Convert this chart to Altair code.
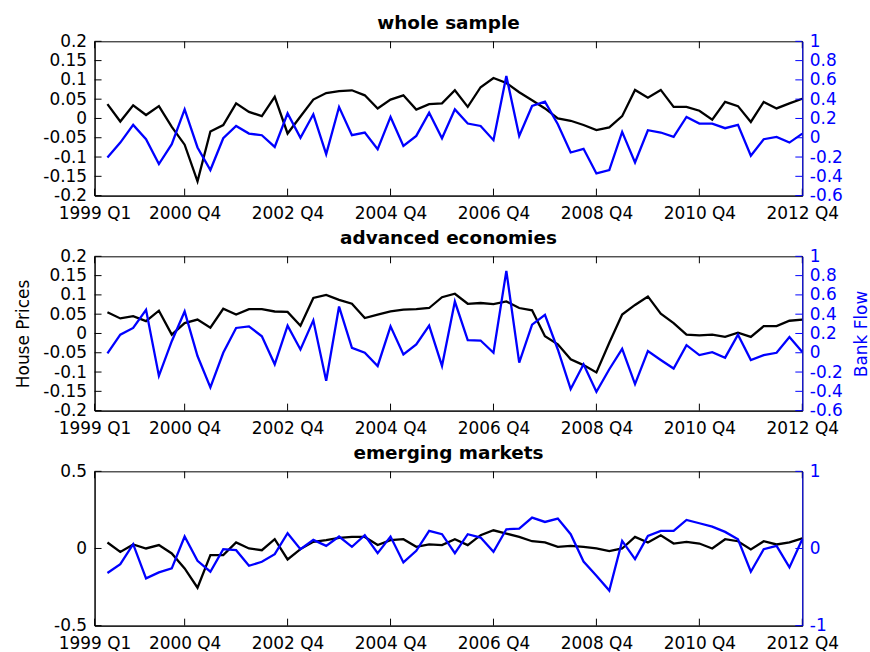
import altair as alt
import pandas as pd

quarter_idx = list(range(1, 56))
tick_pos = [0, 7, 15, 23, 31, 39, 47, 55]
tick_labels = ["1999 Q1", "2000 Q4", "2002 Q4", "2004 Q4", "2006 Q4",
               "2008 Q4", "2010 Q4", "2012 Q4"]

whole_hp = [0.037, -0.008, 0.034, 0.009, 0.032, -0.022, -0.068, -0.163, -0.034, -0.017,
            0.039, 0.017, 0.006, 0.056, -0.039, 0.005, 0.049, 0.066, 0.071, 0.073,
            0.06, 0.026, 0.049, 0.06, 0.023, 0.037, 0.039, 0.073, 0.03, 0.081,
            0.105, 0.092, 0.068, 0.047, 0.026, 0.0, -0.006, -0.017, -0.03, -0.023,
            0.006, 0.074, 0.054, 0.074, 0.03, 0.03, 0.02, -0.003, 0.043, 0.032,
            -0.009, 0.043, 0.026, 0.039, 0.051]
whole_bf = [-0.204, -0.05, 0.133, -0.015, -0.273, -0.067, 0.294, -0.101, -0.335, -0.005,
            0.122, 0.043, 0.026, -0.095, 0.253, 0.0, 0.243, -0.17, 0.319, 0.026,
            0.054, -0.118, 0.216, -0.084, 0.019, 0.26, -0.005, 0.294, 0.147, 0.122,
            -0.025, 0.64, 0.019, 0.329, 0.374, 0.14, -0.153, -0.115, -0.37, -0.335,
            0.061, -0.256, 0.078, 0.054, 0.009, 0.216, 0.147, 0.147, 0.099, 0.133,
            -0.187, -0.015, 0.009, -0.05, 0.043]
adv_hp = [0.055, 0.039, 0.045, 0.032, 0.059, -0.003, 0.027, 0.036, 0.015, 0.064,
          0.049, 0.063, 0.063, 0.057, 0.056, 0.02, 0.092, 0.1, 0.087, 0.077,
          0.04, 0.049, 0.057, 0.062, 0.063, 0.066, 0.094, 0.103, 0.077, 0.079,
          0.076, 0.083, 0.066, 0.06, -0.007, -0.028, -0.067, -0.082, -0.101, -0.024,
          0.049, 0.074, 0.096, 0.051, 0.027, -0.003, -0.005, -0.003, -0.009, 0.002,
          -0.009, 0.019, 0.019, 0.033, 0.036]
adv_bf = [-0.007, 0.188, 0.257, 0.445, -0.24, 0.12, 0.428, -0.034, -0.36, 0.0,
          0.257, 0.274, 0.171, -0.12, 0.281, 0.034, 0.336, -0.291, 0.479, 0.051,
          0.0, -0.137, 0.274, -0.017, 0.086, 0.281, -0.137, 0.531, 0.13, 0.127,
          0.0, 0.849, -0.103, 0.291, 0.394, 0.034, -0.377, -0.12, -0.404, -0.171,
          0.041, -0.325, 0.017, -0.075, -0.164, 0.079, -0.024, 0.007, -0.051, 0.188,
          -0.075, -0.024, 0.0, 0.164, 0.007]
em_hp = [0.039, -0.022, 0.026, 0.0, 0.022, -0.032, -0.129, -0.254, -0.043, -0.043,
         0.039, 0.0, -0.011, 0.06, -0.071, -0.004, 0.043, 0.054, 0.069, 0.075,
         0.075, 0.022, 0.054, 0.06, 0.011, 0.026, 0.022, 0.06, 0.022, 0.086,
         0.118, 0.097, 0.075, 0.047, 0.039, 0.011, 0.017, 0.011, 0.0, -0.017,
         0.0, 0.075, 0.039, 0.086, 0.032, 0.043, 0.032, 0.0, 0.06, 0.047,
         -0.006, 0.047, 0.026, 0.039, 0.065]
em_bf = [-0.318, -0.202, 0.056, -0.387, -0.31, -0.258, 0.155, -0.159, -0.301, -0.009,
         -0.022, -0.224, -0.172, -0.073, 0.198, -0.009, 0.112, 0.034, 0.155, 0.022,
         0.172, -0.06, 0.155, -0.181, -0.03, 0.228, 0.185, -0.06, 0.185, 0.142,
         -0.043, 0.249, 0.258, 0.4, 0.344, 0.387, 0.185, -0.17, -0.353, -0.546,
         0.099, -0.138, 0.163, 0.228, 0.228, 0.37, 0.327, 0.284, 0.215, 0.12,
         -0.301, -0.009, 0.034, -0.245, 0.12]

left_ticks_small = [-0.2, -0.15, -0.1, -0.05, 0, 0.05, 0.1, 0.15, 0.2]
right_ticks_small = [-0.6, -0.4, -0.2, 0, 0.2, 0.4, 0.6, 0.8, 1]
left_ticks_em = [-0.5, 0, 0.5]
right_ticks_em = [-1, 0, 1]

W, H = 711, 155
TL = 7
BLUE = "#0000ff"
FONT = "DejaVu Sans"

label_expr = "[" + ",".join("'%s'" % s for s in tick_labels) + "][indexof([" + \
    ",".join(str(p) for p in tick_pos) + "], datum.value)]"

xscale = alt.Scale(domain=[0, 55], nice=False, zero=False)
xaxis = alt.Axis(values=tick_pos, labelExpr=label_expr, title=None, grid=False,
                 ticks=False, tickSize=0, labelPadding=10, labelFlush=False,
                 labelOverlap=False, domainColor="#000")


def panel(title, hp, bf, ldom, lticks, rdom, rticks, ltitle=None, rtitle=None):
    df = pd.DataFrame({"q": quarter_idx, "hp": hp, "bf": bf})
    base = alt.Chart(df)
    lscale = alt.Scale(domain=ldom, nice=False, zero=False)
    rscale = alt.Scale(domain=rdom, nice=False, zero=False)
    laxis_kw = dict(values=lticks, orient="left", grid=False, ticks=False, tickSize=0,
                    labelPadding=8, labelFlush=False, labelOverlap=False,
                    labelExpr="'' + datum.value", domainColor="#000",
                    titlePadding=10)
    raxis_kw = dict(values=rticks, orient="right", grid=False, ticks=False, tickSize=0,
                    labelPadding=7, labelFlush=False, labelOverlap=False,
                    labelExpr="'' + datum.value", domainColor=BLUE, labelColor=BLUE,
                    titleColor=BLUE, titleAngle=270, titleBaseline="top",
                    titlePadding=11, zindex=1)
    laxis_kw["title"] = ltitle if ltitle else None
    raxis_kw["title"] = rtitle if rtitle else None

    black = base.mark_line(color="#000", strokeWidth=2.3).encode(
        x=alt.X("q:Q", scale=xscale, axis=xaxis),
        y=alt.Y("hp:Q", scale=lscale, axis=alt.Axis(**laxis_kw)),
    )
    blue = base.mark_line(color=BLUE, strokeWidth=2.3).encode(
        x=alt.X("q:Q", scale=xscale, axis=xaxis),
        y=alt.Y("bf:Q", scale=rscale, axis=alt.Axis(**raxis_kw)),
    )
    lt = alt.Chart(pd.DataFrame({"v": lticks})).mark_rule(color="#000", strokeWidth=1).encode(
        y=alt.Y("v:Q", scale=lscale, axis=None), x=alt.value(0), x2=alt.value(TL))
    rt = alt.Chart(pd.DataFrame({"v": rticks})).mark_rule(color=BLUE, strokeWidth=1).encode(
        y=alt.Y("v:Q", scale=rscale, axis=None), x=alt.value(W - TL), x2=alt.value(W))
    tdf = pd.DataFrame({"q": tick_pos})
    xt_top = alt.Chart(tdf).mark_rule(color="#000", strokeWidth=1).encode(
        x=alt.X("q:Q", scale=xscale, axis=xaxis), y=alt.value(0), y2=alt.value(TL))
    xt_bot = alt.Chart(tdf).mark_rule(color="#000", strokeWidth=1).encode(
        x=alt.X("q:Q", scale=xscale, axis=xaxis), y=alt.value(H - TL), y2=alt.value(H))
    return alt.layer(black, blue, lt, rt, xt_top, xt_bot).resolve_scale(
        y="independent").properties(
        width=W, height=H,
        title=alt.TitleParams(title, fontSize=18.5, fontWeight="bold", font=FONT,
                              color="#000", anchor="middle", baseline="alphabetic",
                              frame="group", offset=-15))


p1 = panel("whole sample", whole_hp, whole_bf, [-0.2, 0.2], left_ticks_small,
           [-0.6, 1], right_ticks_small)
p2 = panel("advanced economies", adv_hp, adv_bf, [-0.2, 0.2], left_ticks_small,
           [-0.6, 1], right_ticks_small, ltitle="House Prices", rtitle="Bank Flow")
p3 = panel("emerging markets", em_hp, em_bf, [-0.5, 0.5], left_ticks_em,
           [-1, 1], right_ticks_em)

chart = alt.vconcat(p1, p2, p3, spacing=6).properties(
    padding={"left": 14, "right": 0, "top": 12, "bottom": 0},
    background="white"
).configure_view(stroke="#000", strokeWidth=1).configure_axis(
    labelFont=FONT, labelFontSize=17, labelColor="#000",
    titleFont=FONT, titleFontSize=17, titleFontWeight="normal", titleColor="#000",
    domainWidth=1
)

chart.save("out.html", embed_options={"renderer": "svg", "actions": False})
